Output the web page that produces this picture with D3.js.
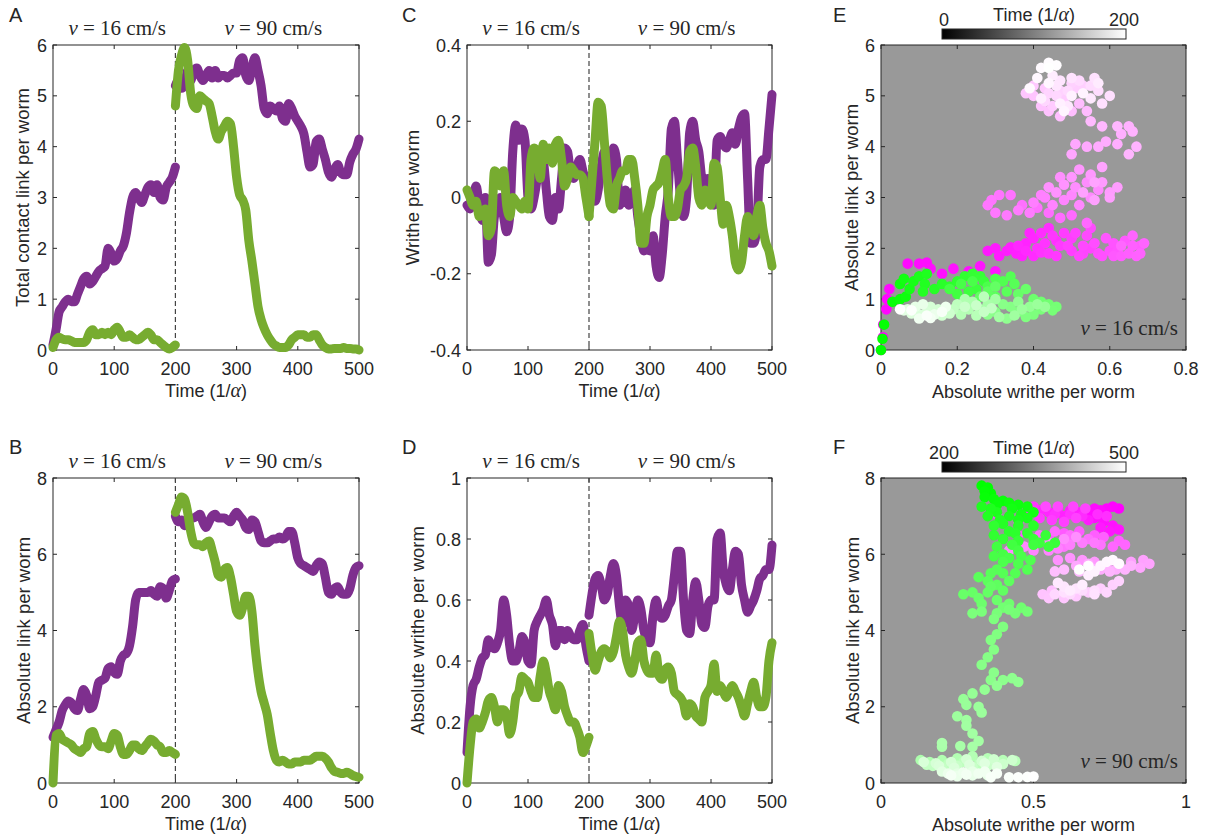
<!DOCTYPE html>
<html>
<head>
<meta charset="utf-8">
<script src="https://cdn.jsdelivr.net/npm/d3@7"></script>
<style>
body { margin: 0; background: #fff; }
svg text { font-family: "Liberation Sans", Arial, sans-serif; fill: #262626; }
svg text.tex { font-family: "Liberation Serif", "Times New Roman", serif; }
</style>
</head>
<body>
<script>
// sampling times (1/alpha), every 5 units, split at the speed change
const tBefore = d3.range(0, 201, 5);
const tAfter = d3.range(200, 501, 5);

// A: total contact link per worm
const aPurpleBefore = [0.1,0.4,0.75,0.85,0.95,1.0,0.95,0.95,1.1,1.25,
  1.4,1.45,1.3,1.35,1.45,1.55,1.6,1.65,2.0,1.9,
  1.75,1.8,1.95,2.05,2.3,2.7,3.0,3.1,3.0,2.9,
  3.05,3.2,3.25,3.1,3.25,3.0,2.95,3.2,3.3,3.4,3.6];
const aPurpleAfter = [5.2,5.3,5.15,5.2,5.5,5.3,5.5,5.55,5.4,5.3,
  5.4,5.5,5.35,5.5,5.35,5.4,5.4,5.35,5.4,5.45,
  5.45,5.7,5.75,5.4,5.3,5.55,5.75,5.5,5.2,4.75,
  4.65,4.8,4.75,4.7,4.8,4.55,4.5,4.85,4.75,4.6,
  4.5,4.4,4.25,3.9,3.6,3.65,4.1,4.15,3.95,3.75,
  3.5,3.4,3.55,3.65,3.5,3.45,3.45,3.7,3.85,3.95,4.15];
const aGreenBefore = [0.05,0.2,0.25,0.22,0.2,0.2,0.18,0.15,0.15,0.15,
  0.15,0.2,0.35,0.4,0.3,0.3,0.35,0.3,0.35,0.3,
  0.4,0.45,0.35,0.25,0.25,0.3,0.25,0.2,0.2,0.25,
  0.3,0.35,0.3,0.2,0.2,0.15,0.1,0.05,0.02,0.05,0.1];
const aGreenAfter = [4.8,5.5,5.8,5.95,5.7,5.05,4.8,4.75,5.0,4.95,
  4.9,4.85,4.6,4.3,4.15,4.3,4.4,4.5,4.45,4.0,
  3.4,3.05,2.95,2.75,2.15,1.75,1.3,0.85,0.6,0.43,
  0.3,0.2,0.12,0.08,0.05,0.05,0.05,0.1,0.2,0.25,
  0.3,0.3,0.3,0.25,0.25,0.3,0.3,0.2,0.1,0.05,
  0.02,0.02,0.03,0.03,0.03,0.05,0.03,0.03,0.02,0.02,0.0];

// B: absolute link per worm
const bPurpleBefore = [1.2,1.4,1.6,1.9,2.05,2.15,2.1,1.95,1.9,2.2,
  2.45,2.3,1.95,2.0,2.3,2.65,2.7,2.75,3.0,3.05,
  2.9,2.85,3.2,3.35,3.4,3.6,4.1,4.8,5.0,5.0,
  5.0,5.0,5.05,4.95,4.9,5.15,5.1,4.85,5.05,5.3,5.35];
const bPurpleAfter = [7.0,6.85,6.9,6.75,6.85,6.95,6.95,7.0,7.05,6.85,
  6.7,6.85,7.0,7.05,6.95,6.95,6.95,6.9,6.85,7.0,
  7.1,7.0,6.9,6.7,6.65,6.9,6.85,6.6,6.35,6.3,
  6.3,6.35,6.4,6.4,6.45,6.4,6.45,6.6,6.6,6.3,
  5.9,5.75,5.7,5.65,5.6,5.55,5.7,5.8,5.75,5.4,
  5.0,4.95,5.1,5.15,5.0,4.95,4.95,5.1,5.45,5.65,5.7];
const bGreenBefore = [0.0,1.25,1.3,1.15,1.1,1.05,1.0,0.9,0.85,0.8,
  0.9,0.95,1.3,1.35,1.15,1.0,0.95,0.95,0.9,1.1,
  1.3,1.25,0.95,0.75,0.75,0.85,1.0,1.0,0.9,0.85,
  0.95,1.05,1.15,1.1,1.0,0.95,0.8,0.8,0.85,0.8,0.75];
const bGreenAfter = [7.1,7.3,7.5,7.45,7.1,6.6,6.3,6.25,6.25,6.2,
  6.3,6.35,6.1,5.8,5.45,5.4,5.6,5.65,5.4,4.95,
  4.5,4.4,4.6,4.9,4.9,4.5,3.6,2.9,2.4,2.1,
  1.8,1.3,0.85,0.6,0.55,0.6,0.55,0.5,0.5,0.55,
  0.55,0.55,0.6,0.6,0.6,0.65,0.7,0.7,0.7,0.65,
  0.55,0.4,0.3,0.28,0.25,0.25,0.28,0.25,0.2,0.17,0.15];

// C: writhe per worm
const cPurpleBefore = [-0.02,-0.03,0.0,0.03,-0.02,-0.06,0.0,-0.17,-0.15,-0.05,
  -0.03,0.0,-0.05,-0.09,-0.05,0.12,0.19,0.15,0.18,0.15,
  0.0,-0.03,0.0,0.05,0.12,0.1,0.02,-0.05,-0.06,0.0,
  -0.03,0.05,0.13,0.12,0.06,0.05,0.08,0.1,0.07,0.04,0.0];
const cPurpleAfter = [0.0,0.05,-0.01,0.02,0.08,0.12,0.09,0.03,0.13,0.1,
  -0.02,0.0,0.02,-0.02,0.0,0.02,-0.05,-0.1,-0.14,-0.12,
  -0.14,-0.1,-0.18,-0.21,-0.15,-0.05,0.02,0.18,0.2,0.1,
  0.0,-0.05,0.0,0.17,0.2,0.15,0.12,0.05,0.03,0.05,
  0.02,-0.02,0.15,0.16,0.14,0.13,0.15,0.17,0.14,0.18,
  0.21,0.22,0.05,-0.12,-0.12,-0.08,0.08,0.1,0.1,0.18,0.27];
const cGreenBefore = [0.02,0.0,-0.02,-0.01,-0.05,-0.04,-0.03,-0.1,-0.08,0.07,
  0.06,0.03,0.07,-0.02,-0.05,0.0,-0.01,-0.02,-0.03,-0.01,
  -0.03,0.1,0.13,0.12,0.05,0.14,0.1,0.13,0.09,0.14,
  0.15,0.1,0.03,0.05,0.08,0.07,0.06,0.06,0.05,0.0,-0.05];
const cGreenAfter = [-0.05,0.05,0.15,0.25,0.24,0.15,0.05,-0.02,-0.03,0.03,
  0.05,0.07,0.07,0.1,0.1,0.05,-0.02,-0.12,-0.12,-0.05,
  -0.02,0.02,0.03,0.04,0.07,0.1,0.0,-0.05,-0.05,-0.03,
  0.02,0.03,0.05,0.12,0.13,0.08,0.0,-0.02,0.02,0.0,
  -0.02,0.09,0.08,0.0,-0.07,-0.02,-0.05,-0.1,-0.17,-0.19,
  -0.17,-0.1,-0.05,-0.08,-0.1,-0.05,-0.02,-0.08,-0.12,-0.14,-0.18];

// D: absolute writhe per worm
const dPurpleBefore = [0.1,0.25,0.32,0.34,0.38,0.41,0.42,0.47,0.45,0.44,
  0.46,0.5,0.6,0.55,0.45,0.4,0.4,0.43,0.48,0.46,
  0.4,0.39,0.5,0.53,0.55,0.57,0.6,0.55,0.52,0.45,
  0.5,0.5,0.47,0.5,0.48,0.47,0.47,0.5,0.52,0.45,0.4];
const dPurpleAfter = [0.55,0.62,0.67,0.68,0.65,0.6,0.62,0.68,0.72,0.68,
  0.58,0.52,0.6,0.58,0.5,0.55,0.6,0.57,0.5,0.47,
  0.46,0.55,0.6,0.55,0.54,0.55,0.58,0.6,0.68,0.76,
  0.76,0.6,0.5,0.49,0.6,0.66,0.6,0.52,0.51,0.58,
  0.6,0.6,0.8,0.82,0.7,0.65,0.63,0.7,0.76,0.75,
  0.65,0.6,0.56,0.58,0.6,0.63,0.67,0.68,0.7,0.7,0.78];
const dGreenBefore = [0.0,0.12,0.2,0.21,0.18,0.2,0.23,0.27,0.28,0.25,
  0.2,0.24,0.24,0.22,0.16,0.2,0.28,0.3,0.35,0.34,
  0.33,0.3,0.28,0.28,0.35,0.4,0.36,0.3,0.27,0.24,
  0.32,0.3,0.25,0.22,0.2,0.2,0.18,0.15,0.1,0.12,0.15];
const dGreenAfter = [0.49,0.42,0.37,0.4,0.43,0.44,0.43,0.41,0.43,0.48,
  0.53,0.5,0.42,0.38,0.36,0.4,0.46,0.47,0.4,0.37,
  0.36,0.36,0.42,0.35,0.34,0.37,0.38,0.36,0.3,0.29,
  0.28,0.26,0.22,0.26,0.25,0.22,0.21,0.2,0.28,0.3,
  0.32,0.39,0.3,0.32,0.3,0.28,0.3,0.32,0.3,0.28,
  0.25,0.22,0.26,0.3,0.33,0.28,0.25,0.25,0.28,0.4,0.46];

// E, F: [absolute writhe, absolute link], in time order
const eMagenta = [[0,0],[0.005,0.25],[0.006,0.5],[0.014,0.8],[0.016,1.0],[0.022,1.2],
  [0.07,1.7],[0.1,1.7],[0.12,1.72],[0.13,1.6],[0.16,1.5],[0.19,1.6],[0.23,1.55],[0.26,1.65],[0.3,1.55],[0.34,1.45],
  [0.28,1.95],[0.3,2.0],[0.31,1.85],[0.33,1.95],[0.34,2.02],[0.355,1.9],[0.37,1.85],[0.38,2.1],[0.39,2.3],[0.4,2.2],
  [0.36,2.05],[0.38,1.95],[0.4,1.85],[0.42,2.3],[0.44,2.4],[0.46,2.15],
  [0.41,2.0],[0.42,1.92],[0.43,2.1],[0.45,2.25],[0.44,1.9],[0.46,1.85],[0.47,2.05],[0.48,2.3],[0.5,2.2],[0.5,1.95],
  [0.49,2.05],[0.51,2.3],[0.53,1.9],[0.55,2.0],
  [0.52,1.85],[0.53,2.05],[0.54,2.25],[0.55,2.4],[0.56,2.1],[0.57,1.9],[0.58,1.85],[0.6,1.95],[0.61,2.1],[0.62,1.95],
  [0.59,2.2],[0.61,1.85],[0.64,2.15],[0.68,2.05],
  [0.63,1.85],[0.65,1.9],[0.66,2.05],[0.67,1.85],[0.68,1.9],[0.69,2.1],[0.66,2.25],[0.63,2.05],
  [0.54,2.5],[0.5,2.65],[0.47,2.6],[0.44,2.7],[0.41,2.8],[0.37,2.85],[0.34,3.05],[0.31,3.05],[0.29,2.95],[0.28,2.85],
  [0.3,2.7],[0.33,2.65],[0.36,2.75],[0.39,2.7],[0.4,2.9],[0.42,3.05],[0.43,3.0],[0.45,2.85],[0.48,2.95],[0.5,3.05],
  [0.52,2.85],[0.55,3.0],[0.57,3.15],[0.54,3.3],[0.51,3.2],[0.47,3.4],[0.44,3.2],
  [0.46,3.1],[0.48,3.25],[0.5,3.4],[0.52,3.55],[0.55,3.45],
  [0.58,3.3],[0.6,3.1],[0.62,3.2],[0.6,3.0],[0.56,2.95],[0.53,3.1],[0.56,3.3],[0.58,3.6],
  [0.5,3.85],[0.51,4.05],[0.54,4.0],[0.57,4.0],[0.59,4.1],[0.62,4.05],[0.63,4.25],[0.65,4.4],[0.66,4.3],[0.67,4.0],
  [0.65,3.85],[0.62,4.4],[0.58,4.4],[0.55,4.5],
  [0.54,4.7],[0.52,4.85],[0.5,4.7],[0.47,4.6],[0.44,4.7],[0.42,4.8],[0.4,5.0],[0.38,5.05],[0.4,5.2],[0.43,5.15],
  [0.45,4.8],[0.48,4.95],[0.51,5.15],[0.53,5.2],[0.5,5.25],[0.47,5.1],[0.44,5.05],[0.43,4.9],
  [0.46,5.0],[0.49,5.1],[0.52,5.3],[0.55,5.2],[0.57,5.1],[0.6,5.0],[0.58,4.85],[0.56,5.35],[0.5,5.35],[0.47,5.3],
  [0.46,5.2],[0.49,4.8],[0.55,4.95],[0.57,5.25],
  [0.45,5.4],[0.42,4.95],[0.47,4.85],[0.5,5.0],[0.53,5.05],[0.48,4.7],[0.44,5.25],[0.41,5.35],[0.39,5.15],[0.42,5.55],
  [0.44,5.65],[0.46,5.6],[0.44,5.55]];
const eGreen = [[0,0],[0.004,0.22],[0.008,0.5],[0.03,0.95],[0.05,1.0],[0.065,1.05],[0.05,1.3],[0.06,1.4],[0.075,1.2],
  [0.085,1.35],[0.1,1.45],[0.12,1.5],[0.115,1.3],[0.11,1.15],
  [0.14,1.2],[0.16,1.3],[0.18,1.25],[0.2,1.35],[0.22,1.45],[0.24,1.5],[0.26,1.45],[0.27,1.35],[0.25,1.2],[0.23,1.15],
  [0.2,1.1],[0.18,1.2],[0.21,1.3],[0.24,1.35],[0.28,1.25],[0.3,1.4],[0.32,1.35],[0.34,1.45],[0.35,1.3],[0.33,1.15],
  [0.3,1.05],[0.28,1.15],[0.26,1.05],[0.3,1.25],
  [0.36,1.1],[0.38,1.2],[0.4,1.0],[0.42,0.95],[0.44,0.9],[0.46,0.85],[0.45,0.78],[0.42,0.8],[0.4,0.7],[0.38,0.65],
  [0.36,0.75],[0.34,0.85],[0.32,0.9],[0.3,0.75],[0.28,0.7],[0.33,0.62],[0.36,0.95],[0.39,0.85],
  [0.43,0.85],[0.41,0.9],[0.37,0.8],[0.35,0.68],[0.31,0.65],
  [0.3,1.0],[0.28,0.9],[0.26,0.8],[0.24,0.95],[0.22,1.0],[0.23,0.8],[0.21,0.7],[0.25,0.68],[0.27,1.05],[0.2,0.9],[0.19,0.8],
  [0.29,0.82],[0.27,0.75],[0.25,0.88],[0.22,0.85],
  [0.18,0.72],[0.16,0.68],[0.15,0.8],[0.13,0.85],[0.12,0.75],[0.1,0.7],[0.08,0.72],[0.07,0.8],[0.06,0.78],[0.09,0.85],
  [0.11,0.9],[0.14,0.7],[0.17,0.85],[0.1,0.62],[0.13,0.63],[0.16,0.75],[0.12,0.68],[0.08,0.78],[0.05,0.8]];
const fMagenta = [[0.78,7.2],[0.76,7.25],[0.74,7.2],[0.72,7.15],[0.7,7.2],[0.68,7.1],[0.7,6.95],[0.73,6.85],[0.76,6.75],
  [0.78,6.65],[0.75,6.6],[0.72,6.7],[0.68,6.9],[0.65,7.1],[0.62,7.15],[0.6,7.0],[0.58,7.2],[0.55,7.1],[0.52,7.15],
  [0.66,7.0],[0.71,7.05],[0.74,7.0],[0.62,7.05],[0.57,7.05],
  [0.5,7.25],[0.48,7.0],[0.52,6.95],[0.56,6.9],[0.6,6.85],[0.64,6.95],[0.67,7.2],[0.63,7.25],[0.58,7.25],[0.54,7.25],
  [0.42,7.0],[0.38,7.05],[0.45,6.85],
  [0.45,6.5],[0.5,6.4],[0.55,6.45],[0.6,6.55],[0.65,6.6],[0.7,6.5],[0.73,6.45],[0.78,6.35],[0.8,6.25],[0.76,6.2],
  [0.52,6.5],[0.57,6.6],[0.62,6.5],[0.68,6.4],[0.72,6.25],[0.6,6.2],[0.5,6.25],
  [0.7,6.3],[0.66,6.3],[0.62,6.25],[0.58,6.15],[0.55,6.1],[0.5,6.1],[0.47,6.2],[0.42,6.1],[0.55,6.3],[0.6,6.4],[0.64,6.45],
  [0.58,5.85],[0.62,5.9],[0.66,5.85],[0.7,5.8],[0.74,5.7],[0.78,5.75],[0.82,5.8],[0.86,5.85],[0.88,5.75],[0.85,5.65],
  [0.64,5.7],[0.68,5.75],[0.72,5.6],[0.77,5.6],[0.82,5.7],
  [0.8,5.6],[0.75,5.55],[0.7,5.6],[0.65,5.55],[0.6,5.6],[0.57,5.55],
  [0.56,5.05],[0.53,4.95],[0.55,4.85],[0.6,4.85],[0.64,4.9],[0.68,5.0],[0.72,5.1],[0.76,5.2],[0.78,5.3],[0.74,5.0],
  [0.57,4.95],[0.62,4.95],[0.66,5.05],[0.7,5.05],[0.6,5.0],
  [0.7,4.95],[0.64,5.1],[0.6,5.15],[0.58,5.25],[0.62,5.05],[0.66,5.2],
  [0.68,5.45],[0.7,5.55],[0.72,5.7],[0.74,5.8],[0.76,5.85],[0.78,5.75],[0.68,5.7],[0.65,5.6]];
const fGreen = [[0.33,7.8],[0.35,7.75],[0.36,7.6],[0.34,7.65],[0.34,7.5],[0.37,7.45],[0.4,7.4],[0.38,7.3],[0.42,7.35],
  [0.45,7.3],[0.48,7.25],[0.43,7.2],[0.5,7.1],[0.46,7.05],[0.48,6.95],[0.45,6.9],[0.42,7.0],[0.38,7.1],[0.36,7.2],
  [0.33,7.25],[0.35,7.0],[0.39,6.9],[0.4,6.8],[0.45,6.75],[0.5,6.75],[0.42,6.6],[0.44,6.55],[0.48,6.55],[0.37,6.75],
  [0.37,6.5],[0.4,6.4],[0.45,6.35],[0.5,6.4],[0.54,6.5],[0.57,6.3],[0.55,6.2],[0.52,6.3],[0.5,6.25],[0.43,6.25],
  [0.38,6.2],[0.45,6.1],[0.4,6.0],[0.37,5.95],[0.42,5.9],[0.46,5.95],[0.4,5.8],[0.45,5.75],[0.49,5.85],[0.48,5.6],
  [0.44,5.5],[0.4,5.5],[0.38,5.6],[0.36,5.5],[0.32,5.4],[0.35,5.3],[0.42,5.3],[0.38,5.2],[0.4,5.05],[0.36,5.15],
  [0.35,5.0],[0.3,5.0],[0.27,4.95],[0.32,4.85],[0.38,4.8],[0.33,4.7],[0.42,4.7],[0.46,4.6],[0.4,4.6],[0.48,4.5],
  [0.44,4.45],[0.42,4.55],[0.38,4.45],[0.33,4.5],[0.3,4.45],[0.37,4.3],[0.4,4.1],[0.38,3.9],
  [0.36,3.75],[0.37,3.5],[0.35,3.3],[0.33,3.1],[0.37,2.9],[0.36,2.7],[0.4,2.7],[0.43,2.75],[0.45,2.65],[0.38,2.55],
  [0.34,2.45],[0.3,2.35],[0.27,2.2],[0.28,2.05],[0.32,2.0],[0.33,1.85],[0.25,1.75],[0.28,1.65],[0.28,1.5],[0.3,1.3],
  [0.32,1.1],[0.3,0.95],[0.26,0.97],[0.2,0.95],[0.2,1.05],
  [0.13,0.6],[0.16,0.55],[0.2,0.6],[0.25,0.65],[0.3,0.7],[0.35,0.65],[0.4,0.6],[0.44,0.58],[0.38,0.55],[0.32,0.5],
  [0.27,0.55],[0.22,0.5],[0.17,0.45],[0.15,0.48],[0.2,0.4],[0.25,0.45],[0.3,0.42],[0.35,0.45],[0.4,0.5],
  [0.43,0.6],[0.37,0.62],[0.33,0.58],[0.28,0.62],[0.23,0.55],[0.18,0.52],[0.14,0.55],[0.19,0.45],[0.24,0.4],
  [0.29,0.48],[0.34,0.52],[0.38,0.42],
  [0.2,0.3],[0.25,0.25],[0.3,0.3],[0.35,0.2],[0.3,0.2],[0.25,0.18],[0.22,0.25],[0.27,0.28],[0.32,0.25],[0.34,0.3],
  [0.28,0.22],[0.23,0.2],[0.38,0.25],[0.36,0.15],[0.42,0.15],[0.45,0.15],[0.48,0.16],[0.5,0.17]];

const timeTicks = [0, 100, 200, 300, 400, 500];
const eTimeRange = [0, 200];
const fTimeRange = [200, 500];

const purple = "#7E2F8E", green = "#77AC30", axisColor = "#262626";

const svg = d3.select("body").append("svg")
  .attr("width", 1207).attr("height", 838);

const defs = svg.append("defs");
const grad = defs.append("linearGradient").attr("id", "grayMap");
grad.append("stop").attr("offset", "0%").attr("stop-color", "#000");
grad.append("stop").attr("offset", "100%").attr("stop-color", "#fff");

function fmt(d) { return String(d); }

// box, inward ticks on all four sides, tick labels
function drawAxes(g, x, y, xTicks, yTicks, bg) {
  const [x0, x1] = x.range(), [y1, y0] = y.range();
  if (bg) g.append("rect").attr("x", x0).attr("y", y0).attr("width", x1 - x0).attr("height", y1 - y0).attr("fill", bg);
  const tl = 4;
  xTicks.forEach(t => {
    g.append("line").attr("x1", x(t)).attr("x2", x(t)).attr("y1", y1).attr("y2", y1 - tl).attr("stroke", axisColor);
    g.append("line").attr("x1", x(t)).attr("x2", x(t)).attr("y1", y0).attr("y2", y0 + tl).attr("stroke", axisColor);
    g.append("text").attr("x", x(t)).attr("y", y1 + 24.5).attr("text-anchor", "middle")
      .style("font-size", "18px").text(fmt(t));
  });
  yTicks.forEach(t => {
    g.append("line").attr("x1", x0).attr("x2", x0 + tl).attr("y1", y(t)).attr("y2", y(t)).attr("stroke", axisColor);
    g.append("line").attr("x1", x1).attr("x2", x1 - tl).attr("y1", y(t)).attr("y2", y(t)).attr("stroke", axisColor);
    g.append("text").attr("x", x0 - 6).attr("y", y(t) + 6.5).attr("text-anchor", "end")
      .style("font-size", "18px").text(fmt(t));
  });
  g.append("rect").attr("x", x0).attr("y", y0).attr("width", x1 - x0).attr("height", y1 - y0)
    .attr("fill", "none").attr("stroke", axisColor).attr("stroke-width", 1);
}

function speedLabel(g, xc, yb, speed, anchor) {
  const t = g.append("text").attr("class", "tex").attr("x", xc).attr("y", yb)
    .attr("text-anchor", anchor || "middle").style("font-size", "21px");
  t.append("tspan").style("font-style", "italic").text("v");
  t.append("tspan").text(" = " + speed + " cm/s");
}

function timeLabel(g, xc, yb, text) {
  const t = g.append("text").attr("x", xc).attr("y", yb).attr("text-anchor", "middle").style("font-size", "18px");
  t.append("tspan").text(text + " (1/");
  t.append("tspan").style("font-family", "'Liberation Serif', serif")
    .style("font-style", "italic").style("font-size", "20px").text("α");
  t.append("tspan").text(")");
}

function yLabel(g, xc, yc, text) {
  g.append("text").attr("transform", "translate(" + xc + "," + yc + ") rotate(-90)")
    .attr("text-anchor", "middle").attr("dy", "0.35em").style("font-size", "18.5px").text(text);
}

function panelLetter(x, y, s) {
  svg.append("text").attr("x", x).attr("y", y).style("font-size", "20px").text(s);
}

function linePanel(box, yDomain, yTicks, series, ylab, ylabX) {
  const g = svg.append("g");
  const x = d3.scaleLinear().domain([0, 500]).range([box.x0, box.x1]);
  const y = d3.scaleLinear().domain(yDomain).range([box.y1, box.y0]);
  drawAxes(g, x, y, timeTicks, yTicks);
  // dashed line where the speed changes
  g.append("line").attr("x1", x(200)).attr("x2", x(200)).attr("y1", box.y0).attr("y2", box.y1)
    .attr("stroke", "#444").attr("stroke-dasharray", "5,3").attr("stroke-width", 1.2);
  const line = d3.line().x(d => x(d[0])).y(d => y(d[1])).curve(d3.curveMonotoneX);
  series.forEach(s => {
    [d3.zip(tBefore, s.before), d3.zip(tAfter, s.after)].forEach(pts => {
      g.append("path").attr("d", line(pts)).attr("fill", "none").attr("stroke", s.color)
        .attr("stroke-width", 9).attr("stroke-linecap", "round").attr("stroke-linejoin", "round");
    });
  });
  speedLabel(g, x(105), box.y0 - 10, 16);
  speedLabel(g, x(360), box.y0 - 10, 90);
  timeLabel(g, (box.x0 + box.x1) / 2, box.y1 + 47, "Time");
  yLabel(g, ylabX, (box.y0 + box.y1) / 2, ylab);
}

function scatterPanel(box, xDomain, xTicks, yDomain, yTicks, magenta, greenPts, tRange, speed, ylabX) {
  const g = svg.append("g");
  const x = d3.scaleLinear().domain(xDomain).range([box.x0, box.x1]);
  const y = d3.scaleLinear().domain(yDomain).range([box.y1, box.y0]);
  drawAxes(g, x, y, xTicks, yTicks, "#999999");
  const mCol = d3.interpolateRgb("#ff00ff", "#ffffff");
  const gCol = d3.interpolateRgb("#00ff00", "#ffffff");
  [[magenta, mCol], [greenPts, gCol]].forEach(([pts, col]) => {
    g.selectAll(null).data(pts).enter().append("circle")
      .attr("cx", d => x(d[0])).attr("cy", d => y(d[1])).attr("r", 5.3)
      .attr("fill", (d, i) => col(i / (pts.length - 1)));
  });
  speedLabel(g, box.x1 - 8, box.y1 - 15, speed, "end");
  g.append("text").attr("x", (box.x0 + box.x1) / 2).attr("y", box.y1 + 48).attr("text-anchor", "middle")
    .style("font-size", "18px").text("Absolute writhe per worm");
  yLabel(g, ylabX, (box.y0 + box.y1) / 2, "Absolute link per worm");

  // colorbar for time
  const cb = { x0: 942, x1: 1126, y0: box.y0 - 16, h: 10 };
  g.append("rect").attr("x", cb.x0).attr("y", cb.y0).attr("width", cb.x1 - cb.x0).attr("height", cb.h)
    .attr("fill", "url(#grayMap)").attr("stroke", axisColor).attr("stroke-width", 1);
  g.append("text").attr("x", cb.x0 + 2).attr("y", cb.y0 - 3).attr("text-anchor", "middle")
    .style("font-size", "18px").text(tRange[0]);
  g.append("text").attr("x", cb.x1 - 2).attr("y", cb.y0 - 3).attr("text-anchor", "middle")
    .style("font-size", "18px").text(tRange[1]);
  timeLabel(g, (cb.x0 + cb.x1) / 2, cb.y0 - 8, "Time");
}

const boxA = { x0: 53, x1: 359, y0: 45, y1: 350 };
const boxB = { x0: 53, x1: 359, y0: 478, y1: 783 };
const boxC = { x0: 467, x1: 772, y0: 45, y1: 350 };
const boxD = { x0: 467, x1: 772, y0: 478, y1: 783 };
const boxE = { x0: 881, x1: 1186, y0: 45, y1: 350 };
const boxF = { x0: 881, x1: 1186, y0: 478, y1: 783 };

linePanel(boxA, [0, 6], [0, 1, 2, 3, 4, 5, 6],
  [{ before: aPurpleBefore, after: aPurpleAfter, color: purple }, { before: aGreenBefore, after: aGreenAfter, color: green }],
  "Total contact link per worm", 23);
linePanel(boxB, [0, 8], [0, 2, 4, 6, 8],
  [{ before: bPurpleBefore, after: bPurpleAfter, color: purple }, { before: bGreenBefore, after: bGreenAfter, color: green }],
  "Absolute link per worm", 24);
linePanel(boxC, [-0.4, 0.4], [-0.4, -0.2, 0, 0.2, 0.4],
  [{ before: cPurpleBefore, after: cPurpleAfter, color: purple }, { before: cGreenBefore, after: cGreenAfter, color: green }],
  "Writhe per worm", 413);
linePanel(boxD, [0, 1], [0, 0.2, 0.4, 0.6, 0.8, 1],
  [{ before: dPurpleBefore, after: dPurpleAfter, color: purple }, { before: dGreenBefore, after: dGreenAfter, color: green }],
  "Absolute writhe per worm", 418);

scatterPanel(boxE, [0, 0.8], [0, 0.2, 0.4, 0.6, 0.8], [0, 6], [0, 1, 2, 3, 4, 5, 6],
  eMagenta, eGreen, eTimeRange, 16, 852);
scatterPanel(boxF, [0, 1], [0, 0.5, 1], [0, 8], [0, 2, 4, 6, 8],
  fMagenta, fGreen, fTimeRange, 90, 853);

panelLetter(9, 22, "A");
panelLetter(9, 454, "B");
panelLetter(402, 22, "C");
panelLetter(402, 454, "D");
panelLetter(833, 22, "E");
panelLetter(833, 454, "F");
</script>
</body>
</html>
